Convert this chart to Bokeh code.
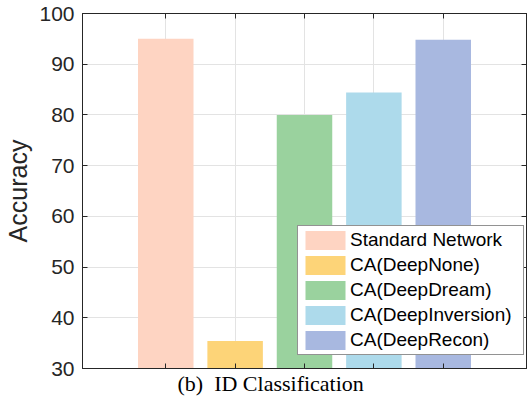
from bokeh.plotting import figure
from bokeh.models import ColumnDataSource, FixedTicker, LinearAxis, Legend, LegendItem, Title
from bokeh.embed import file_html
from bokeh.resources import INLINE

methods = ["Standard Network", "CA(DeepNone)", "CA(DeepDream)", "CA(DeepInversion)", "CA(DeepRecon)"]
positions = [1, 2, 3, 4, 5]
accuracy = [95.0, 35.4, 80.0, 84.4, 94.8]
colors = ["#FED4C2", "#FDD478", "#9AD29E", "#ADDAEB", "#A8B8E0"]
y_ticks = [30, 40, 50, 60, 70, 80, 90, 100]
caption = "(b)\u2002ID Classification"

AX = "#262626"
FONT = "Liberation Sans"

src = ColumnDataSource(dict(x=positions, top=accuracy, color=colors, label=methods))

p = figure(width=529, height=400, x_range=(-0.2, 6.2), y_range=(30, 100),
           output_backend="svg", toolbar_location=None,
           min_border_left=82, min_border_right=3, min_border_top=13, min_border_bottom=32)

r = p.vbar(x="x", top="top", bottom=0, width=0.8, color="color", line_color=None, source=src)

p.outline_line_color = AX
p.outline_line_width = 1

# left axis
ya = p.yaxis[0]
ya.ticker = FixedTicker(ticks=y_ticks)
ya.major_tick_in = 5
ya.major_tick_out = 0
ya.minor_tick_line_color = None
ya.axis_line_color = AX
ya.major_tick_line_color = AX
ya.major_label_text_font = FONT
ya.major_label_text_font_size = "21px"
ya.major_label_text_color = AX
ya.major_label_standoff = 8
ya.axis_label = "Accuracy"
ya.axis_label_text_font = FONT
ya.axis_label_text_font_size = "25px"
ya.axis_label_text_font_style = "normal"
ya.axis_label_text_color = AX
ya.axis_label_standoff = 4

x_blank = {t: "" for t in positions}
y_blank = {t: "" for t in y_ticks}

# bottom axis
xa = p.xaxis[0]
xa.ticker = FixedTicker(ticks=positions)
xa.major_tick_in = 5
xa.major_tick_out = 0
xa.minor_tick_line_color = None
xa.axis_line_color = AX
xa.major_tick_line_color = AX
xa.major_label_overrides = x_blank
xa.major_label_standoff = 0

# top and right axes (ticks only)
top_ax = LinearAxis(ticker=FixedTicker(ticks=positions), major_tick_in=5, major_tick_out=0,
                    minor_tick_line_color=None, axis_line_color=AX, major_tick_line_color=AX,
                    major_label_overrides=x_blank, major_label_standoff=0)
right_ax = LinearAxis(ticker=FixedTicker(ticks=y_ticks), major_tick_in=5, major_tick_out=0,
                      minor_tick_line_color=None, axis_line_color=AX, major_tick_line_color=AX,
                      major_label_overrides=y_blank, major_label_standoff=0)
p.add_layout(top_ax, "above")
p.add_layout(right_ax, "right")

# grid
p.xgrid.ticker = FixedTicker(ticks=positions)
p.ygrid.ticker = FixedTicker(ticks=y_ticks)
for g in (p.xgrid[0], p.ygrid[0]):
    g.grid_line_color = "#E3E3E3"
    g.grid_line_width = 1

# legend
items = [LegendItem(label=m, renderers=[r], index=i) for i, m in enumerate(methods)]
legend = Legend(items=items, location=(215, 13), margin=0, padding=2, spacing=1,
                glyph_width=50, glyph_height=24, label_height=24, label_width=171,
                label_standoff=0, label_text_font=FONT, label_text_font_size="19px",
                label_text_color="#000000", border_line_color=AX, border_line_width=1,
                background_fill_color="white", background_fill_alpha=1.0)
p.add_layout(legend, "center")

# caption below the plot
p.add_layout(Title(text=caption, align="left", offset=95, standoff=0,
                   text_font="Liberation Serif", text_font_size="22px",
                   text_font_style="normal", text_color="#000000"), "below")

open("out.html", "w").write(file_html(p, INLINE))
